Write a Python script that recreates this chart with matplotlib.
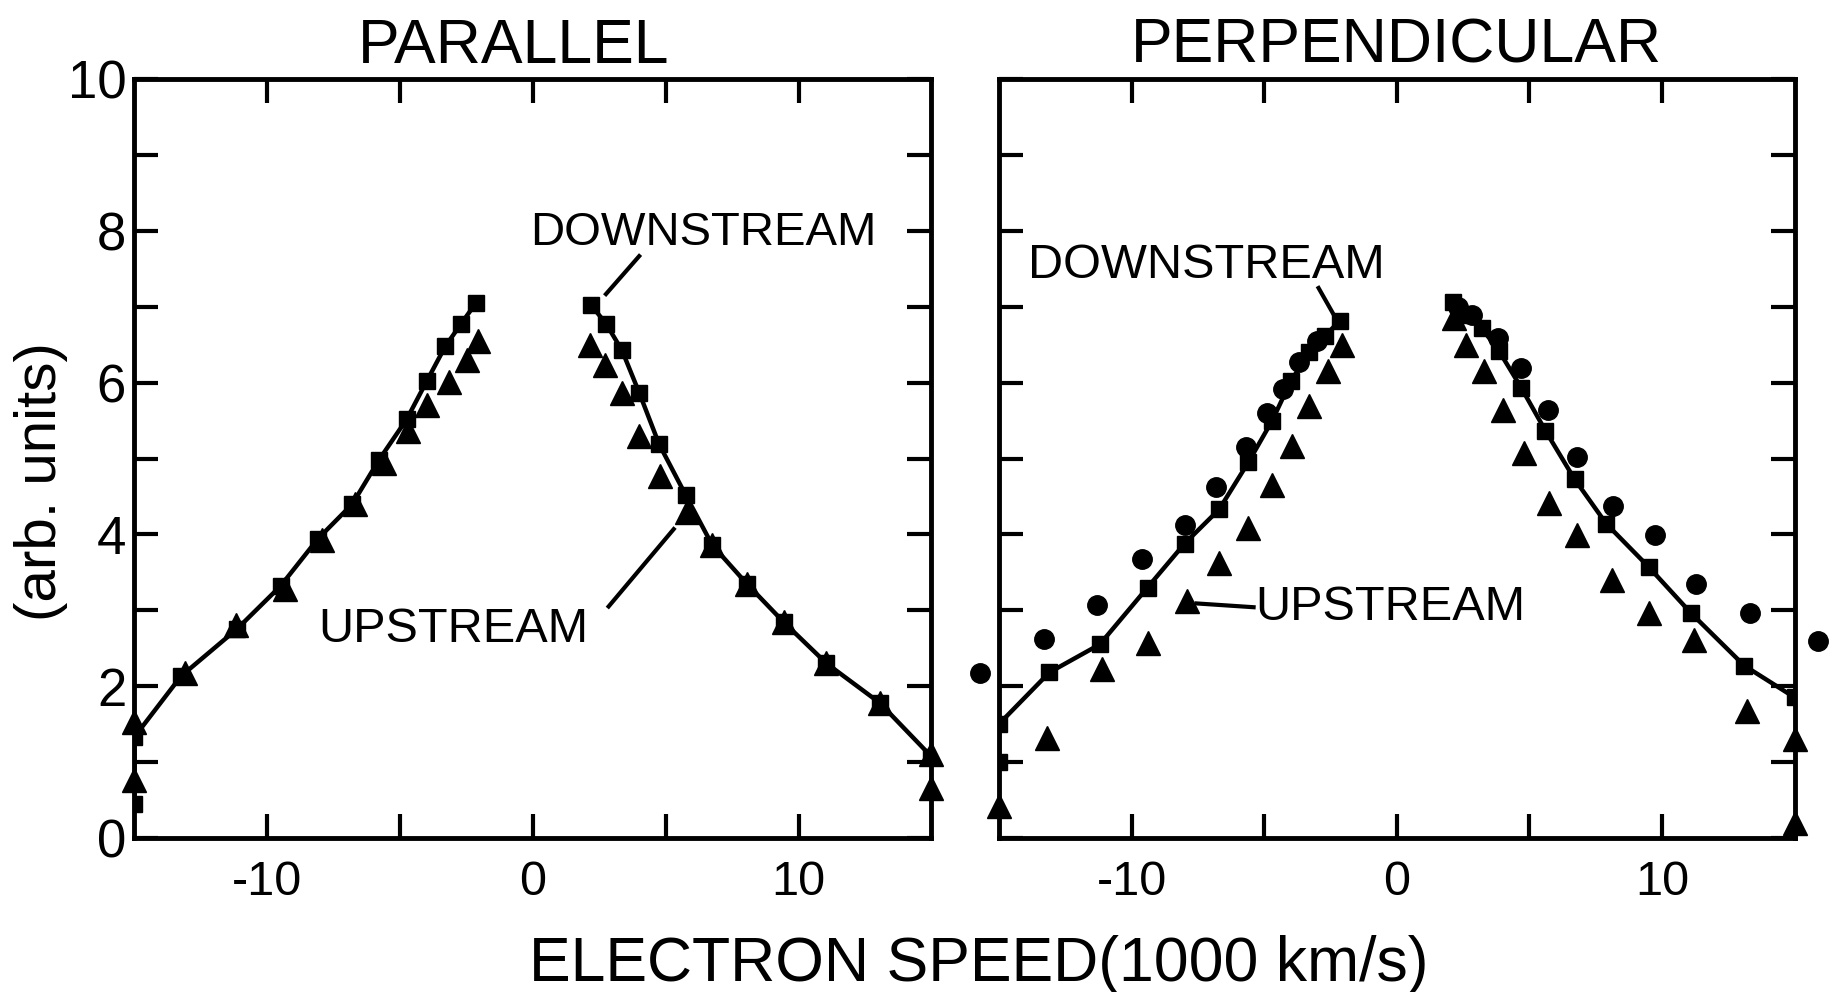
import matplotlib
matplotlib.use("Agg")
import matplotlib.pyplot as plt

plt.rcParams['font.family'] = ['Liberation Sans', 'DejaVu Sans']
plt.rcParams['axes.unicode_minus'] = False

# PARALLEL panel
par_down_x = [-15, -15, -13.25, -11.15, -9.5, -8.1, -6.8, -5.8, -4.75, -4.0, -3.3, -2.7, -2.15]
par_down_y = [0.45, 1.33, 2.13, 2.75, 3.32, 3.94, 4.4, 4.98, 5.52, 6.02, 6.48, 6.78, 7.05]
par_down_x2 = [2.2, 2.75, 3.35, 4.0, 4.75, 5.75, 6.75, 8.05, 9.45, 11.05, 13.05, 15.0]
par_down_y2 = [7.02, 6.78, 6.43, 5.87, 5.19, 4.52, 3.86, 3.35, 2.84, 2.30, 1.78, 1.07]
par_up_x = [-15, -15, -13.1, -11.18, -9.35, -7.93, -6.71, -5.6, -4.69, -3.98, -3.16, -2.5, -2.05]
par_up_y = [0.76, 1.53, 2.17, 2.81, 3.28, 3.93, 4.4, 4.94, 5.37, 5.71, 6.01, 6.3, 6.55]
par_up_x2 = [2.15, 2.7, 3.35, 4.0, 4.8, 5.8, 6.75, 8.05, 9.45, 11.05, 13.05, 15.0, 15.0]
par_up_y2 = [6.5, 6.23, 5.87, 5.3, 4.77, 4.3, 3.86, 3.35, 2.84, 2.3, 1.78, 1.1, 0.66]

# PERPENDICULAR panel
per_down_x = [-15, -15, -13.1, -11.2, -9.4, -8.0, -6.7, -5.6, -4.7, -4.0, -3.3, -2.7, -2.15]
per_down_y = [1.0, 1.5, 2.18, 2.55, 3.3, 3.88, 4.33, 4.95, 5.5, 6.02, 6.4, 6.62, 6.82]
per_down_x2 = [2.1, 2.6, 3.2, 3.85, 4.7, 5.6, 6.7, 7.9, 9.5, 11.1, 13.1, 15.0]
per_down_y2 = [7.07, 6.9, 6.72, 6.42, 5.93, 5.37, 4.73, 4.14, 3.57, 2.96, 2.27, 1.85]
per_circ_x = [-15.7, -13.3, -11.3, -9.6, -8.0, -6.8, -5.7, -4.9, -4.3, -3.7, -3.0,
              2.3, 2.85, 3.8, 4.7, 5.7, 6.8, 8.15, 9.75, 11.3, 13.3, 15.9]
per_circ_y = [2.17, 2.62, 3.07, 3.68, 4.12, 4.62, 5.15, 5.6, 5.92, 6.28, 6.55,
              7.0, 6.9, 6.59, 6.2, 5.64, 5.02, 4.38, 3.99, 3.35, 2.96, 2.6]
per_up_x = [-15, -13.2, -11.1, -9.4, -7.9, -6.7, -5.6, -4.7, -3.95, -3.3, -2.6, -2.05,
            2.15, 2.6, 3.3, 4.0, 4.8, 5.75, 6.8, 8.1, 9.5, 11.2, 13.2, 15.0, 15.0]
per_up_y = [0.42, 1.32, 2.22, 2.57, 3.12, 3.62, 4.08, 4.65, 5.17, 5.7, 6.15, 6.5,
            6.85, 6.5, 6.15, 5.64, 5.07, 4.41, 3.99, 3.40, 2.96, 2.61, 1.67, 1.3, 0.2]

x_ticks = [-10, -5, 0, 5, 10]
x_labels = ['-10', '', '0', '', '10']
y_ticks = list(range(0, 11))
y_labels = ['0', '', '2', '', '4', '', '6', '', '8', '', '10']


def style_axes(ax, show_y):
    ax.set_xlim(-15, 15)
    ax.set_ylim(0, 10)
    ax.set_xticks(x_ticks)
    ax.set_xticklabels(x_labels)
    ax.set_yticks(y_ticks)
    if show_y:
        ax.set_yticklabels(y_labels)
    else:
        ax.set_yticklabels([])
    ax.tick_params(direction='in', length=17, width=3, top=True, right=True)
    ax.tick_params(axis='x', labelsize=35, pad=16)
    ax.tick_params(axis='y', labelsize=38, pad=6)
    for sp in ax.spines.values():
        sp.set_linewidth(3.5)


def draw_branch(ax, xs, ys):
    ax.plot(xs, ys, color='black', lw=3.2, marker='s', ms=11.5, zorder=3)


fig = plt.figure(figsize=(18.32, 9.92), dpi=100)
ax1 = fig.add_axes([0.0734, 0.1555, 0.435, 0.7644])
ax2 = fig.add_axes([0.5453, 0.1555, 0.4343, 0.7644])

# parallel
draw_branch(ax1, par_down_x, par_down_y)
draw_branch(ax1, par_down_x2, par_down_y2)
ax1.plot(par_up_x + par_up_x2, par_up_y + par_up_y2, ls='none', marker='^',
         ms=17, color='black', zorder=4, clip_on=False)
style_axes(ax1, True)
ax1.text(0.476, 1.022, 'PARALLEL', transform=ax1.transAxes, ha='center',
         va='baseline', fontsize=45)
ax1.text(-0.1, 7.98, 'DOWNSTREAM', fontsize=34, va='center', ha='left')
ax1.plot([4.0, 2.75], [7.67, 7.17], color='black', lw=3)
ax1.text(-8.1, 2.75, 'UPSTREAM', fontsize=35, va='center', ha='left')
ax1.plot([2.85, 5.3], [3.05, 4.07], color='black', lw=3)

# perpendicular
draw_branch(ax2, per_down_x, per_down_y)
draw_branch(ax2, per_down_x2, per_down_y2)
ax2.plot(per_circ_x, per_circ_y, ls='none', marker='o', ms=14, color='black',
         zorder=4, clip_on=False)
ax2.plot(per_up_x, per_up_y, ls='none', marker='^', ms=17, color='black',
         zorder=4, clip_on=False)
style_axes(ax2, False)
ax2.text(0.5, 1.022, 'PERPENDICULAR', transform=ax2.transAxes, ha='center',
         va='baseline', fontsize=45)
ax2.text(-13.9, 7.55, 'DOWNSTREAM', fontsize=35, va='center', ha='left')
ax2.plot([-2.95, -2.35], [7.25, 6.88], color='black', lw=3)
ax2.text(-5.35, 3.04, 'UPSTREAM', fontsize=35, va='center', ha='left')
ax2.plot([-7.55, -5.4], [3.09, 3.04], color='black', lw=3)

fig.text(0.534, 0.011, 'ELECTRON SPEED(1000 km/s)', ha='center', va='baseline',
         fontsize=45)
fig.text(0.0224, 0.515, '(arb. units)', rotation=90, ha='center', va='center',
         fontsize=42)

fig.savefig('out.png', dpi=100)
